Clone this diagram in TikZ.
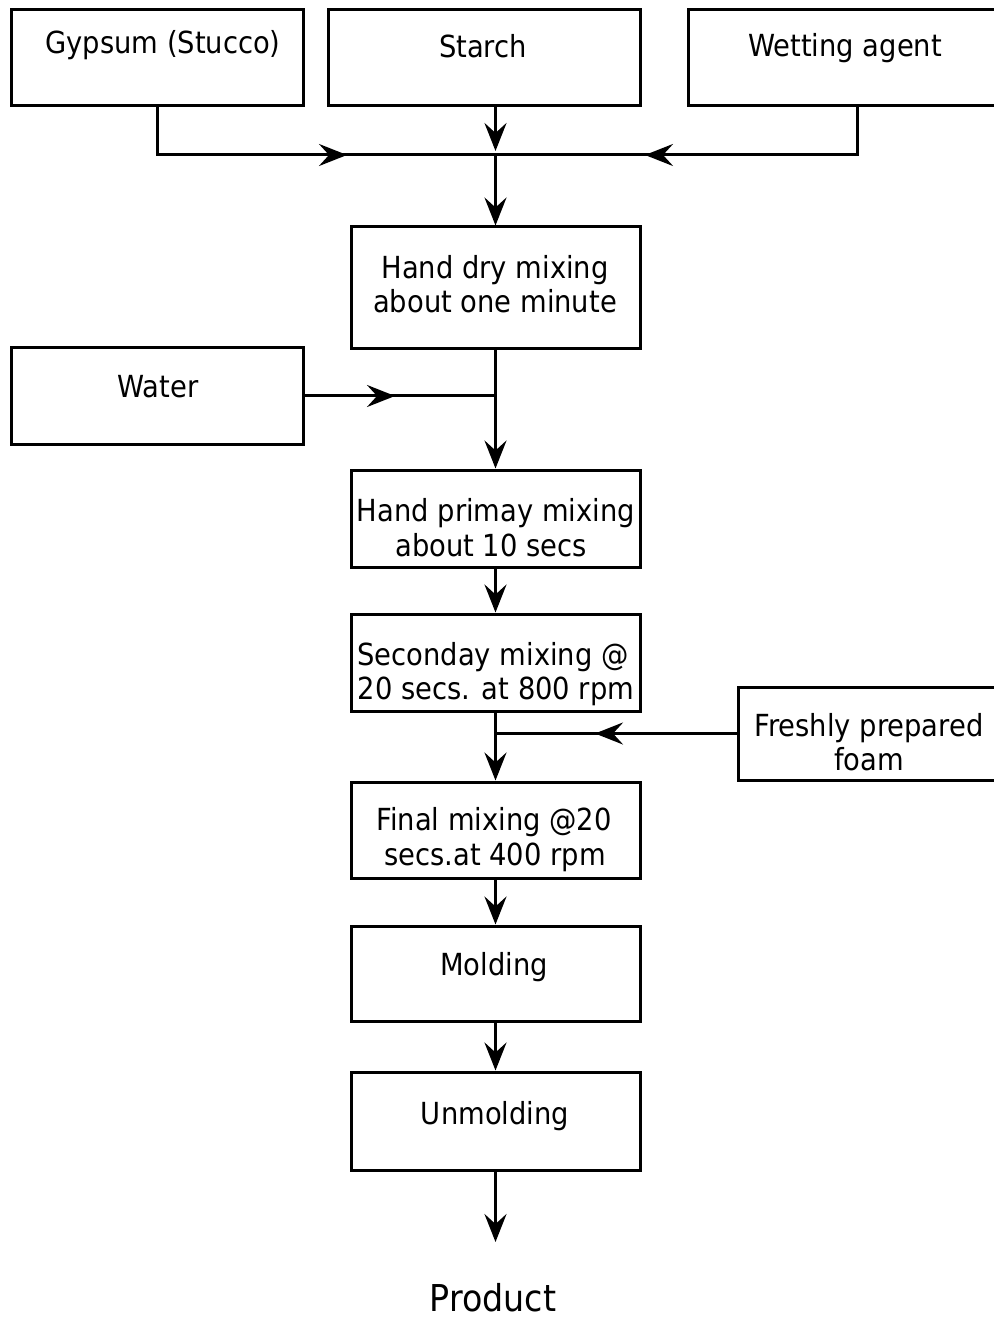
\documentclass[tikz,border=0pt]{standalone}
\usepackage{fontspec}
\setmainfont{DejaVu Sans}[FakeStretch=0.9]
\usetikzlibrary{arrows.meta}
\begin{document}
\begin{tikzpicture}[x=0.5pt,y=-0.5pt,
  box/.style={draw, line width=1.5pt, inner sep=0pt, minimum width=144.5pt, minimum height=48.5pt},
  lbl/.style={anchor=base, inner sep=0pt, font=\fontsize{15.2}{18}\selectfont},
  wire/.style={line width=1.5pt},
  flow/.style={line width=1.5pt, -{Stealth[length=14pt,width=11pt,inset=5pt]}}]
\useasboundingbox (0,0) rectangle (993,1320);
% boxes
\node[box, minimum width=146pt, minimum height=48pt] (gyp) at (157,58) {};
\node[box, minimum width=156pt, minimum height=48pt] (starch) at (484,58) {};
\node[box, minimum width=161pt, minimum height=48pt] (wet) at (849,58) {};
\node[box, minimum height=61pt] (dry) at (495.5,288) {};
\node[box, minimum width=146pt, minimum height=48pt] (water) at (157,396) {};
\node[box] (prim) at (495.5,518.5) {};
\node[box] (sec) at (495.5,662.5) {};
\node[box, minimum width=136pt, minimum height=46.5pt] (foam) at (874,733.5) {};
\node[box, minimum height=48pt] (fin) at (495.5,830) {};
\node[box, minimum height=47.5pt] (mold) at (495.5,973.5) {};
\node[box, minimum height=49pt] (unmold) at (495.5,1121) {};
% texts
\node[lbl] (gyp-t) at (163,54) {Gypsum (Stucco)};
\node[lbl] (starch-t) at (483,58) {Starch};
\node[lbl] (wet-t) at (845,57) {Wetting agent};
\node[lbl] (dry-t1) at (495,279) {Hand dry mixing};
\node[lbl] (dry-t2) at (495,313) {about one minute};
\node[lbl] (water-t) at (158,398) {Water};
\node[lbl] (prim-t1) at (496,521) {Hand primay mixing};
\node[lbl] (prim-t2) at (491,556) {about 10 secs};
\node[lbl] (sec-t1) at (493,665) {Seconday mixing @};
\node[lbl] (sec-t2) at (496,699) {20 secs. at 800 rpm};
\node[lbl] (foam-t1) at (869,736) {Freshly prepared};
\node[lbl] (foam-t2) at (869,770) {foam};
\node[lbl] (fin-t1) at (494,830) {Final mixing @20};
\node[lbl] (fin-t2) at (495,865) {secs.at 400 rpm};
\node[lbl] (mold-t) at (494,975) {Molding};
\node[lbl] (unmold-t) at (495,1124) {Unmolding};
\node[lbl, font=\fontsize{18.5}{22}\selectfont] (prod) at (493,1311) {Product};
% junction and arrow-tip coordinates
\coordinate (j1) at (495.5,155);
\coordinate (gA) at (347,155);
\coordinate (wA) at (645,155);
\coordinate (sA) at (495.5,151);
\coordinate (waA) at (395,396);
\coordinate (jw) at (dry.south |- water.east);
\coordinate (fA) at (595,733.5);
\coordinate (jf) at (sec.south |- foam.west);
\coordinate (pA) at (495.5,1242);
% connectors: full lines first, arrowheads on top
\draw[wire] (gyp.south) |- (j1);
\draw[flow] (gyp.south) |- (gA);
\draw[wire] ([xshift=4pt]wet.south) |- (j1);
\draw[flow] ([xshift=4pt]wet.south) |- (wA);
\draw[flow] (starch.south -| j1) -- (sA);
\draw[flow] (j1) -- (dry.north);
\draw[flow] (dry.south) -- (prim.north);
\draw[wire] (water.east) -- (jw);
\draw[flow] (water.east) -- (waA);
\draw[flow] (prim.south) -- (sec.north);
\draw[flow] (sec.south) -- (fin.north);
\draw[wire] (foam.west) -- (jf);
\draw[flow] (foam.west) -- (fA);
\draw[flow] (fin.south) -- (mold.north);
\draw[flow] (mold.south) -- (unmold.north);
\draw[flow] (unmold.south) -- (pA);
\end{tikzpicture}
\end{document}
